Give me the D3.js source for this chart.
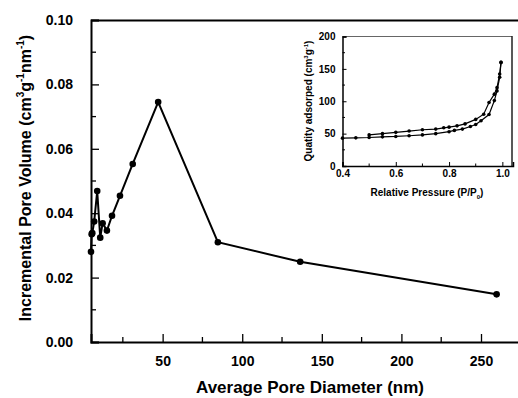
<!DOCTYPE html>
<html><head><meta charset="utf-8">
<script src="https://cdn.jsdelivr.net/npm/d3@7"></script>
<style>
body{margin:0;background:#fff;}
svg{display:block;font-family:"Liberation Sans",Arial,sans-serif;}
</style></head>
<body>
<svg id="c" width="518" height="398"></svg>
<script>
// Main chart data
const poreDiameter = [5, 5.4, 5.8, 7, 8.9, 10.8, 12.3, 15, 18.2, 23.2, 31.2, 47.2, 84.7, 136.4, 259.8];
const poreVolume   = [0.028, 0.0335, 0.0338, 0.0374, 0.0469, 0.0324, 0.0369, 0.0346, 0.0392, 0.0454, 0.0553, 0.0745, 0.031, 0.0249, 0.0148];
const xTicksMain = [50, 100, 150, 200, 250];
const yTicksMain = [0.00, 0.02, 0.04, 0.06, 0.08, 0.10];

// Inset isotherm data
const adsP = [0.40, 0.45, 0.50, 0.55, 0.60, 0.65, 0.70, 0.75, 0.80, 0.82, 0.85, 0.88, 0.90, 0.92, 0.95, 0.97, 0.98, 0.99, 0.995];
const adsQ = [43, 43.5, 44, 45, 45.6, 46.7, 48, 50, 53, 55, 57, 61, 64, 70, 79.5, 101, 116, 137, 160];
const desP = [0.50, 0.55, 0.60, 0.65, 0.70, 0.75, 0.78, 0.80, 0.83, 0.86, 0.90, 0.93, 0.95, 0.97, 0.98, 0.99, 0.995];
const desQ = [48, 50, 52, 54, 56, 57, 59, 60, 62, 65, 72, 80, 98, 111, 121, 142, 160];
const xTicksInset = [0.4, 0.6, 0.8, 1.0];
const yTicksInset = [0, 50, 100, 150, 200];

const svg = d3.select("#c");

// ---------- Main ----------
const x = d3.scaleLinear().domain([5, 275]).range([91, 520.8]);
const y = d3.scaleLinear().domain([0, 0.1]).range([342, 20]);

// frame top
svg.append("line").attr("x1", 91).attr("x2", 520).attr("y1", 20.5).attr("y2", 20.5)
  .attr("stroke", "#000").attr("stroke-width", 2);

// y axis
const yAx = svg.append("g").attr("transform", "translate(91,0)")
  .call(d3.axisLeft(y).tickValues(yTicksMain).tickFormat(d3.format(".2f")).tickSize(-8).tickPadding(18));
yAx.select(".domain").attr("stroke-width", 2);
yAx.selectAll(".tick line").attr("stroke-width", 1.3);
yAx.selectAll("text").attr("font-size", 14).attr("font-weight", "bold").attr("fill", "#000");
// minor
svg.append("g").selectAll("line").data(d3.range(0.01, 0.1, 0.02)).join("line")
  .attr("x1", 91).attr("x2", 96).attr("y1", d => y(d)).attr("y2", d => y(d))
  .attr("stroke", "#000").attr("stroke-width", 1.3);

// x axis
const xAx = svg.append("g").attr("transform", "translate(0,342)")
  .call(d3.axisBottom(x).tickValues(xTicksMain).tickFormat(d3.format("d")).tickSize(-8).tickPadding(14));
xAx.select(".domain").attr("stroke-width", 2);
xAx.selectAll(".tick line").attr("stroke-width", 1.3);
xAx.selectAll("text").attr("font-size", 14).attr("font-weight", "bold").attr("fill", "#000");
svg.append("g").selectAll("line").data([25, 75, 125, 175, 225, 275]).join("line")
  .attr("x1", d => x(d)).attr("x2", d => x(d)).attr("y1", 342).attr("y2", 337)
  .attr("stroke", "#000").attr("stroke-width", 1.3);

// line + markers
const mainData = poreDiameter.map((d, i) => [d, poreVolume[i]]);
svg.append("path").datum(mainData)
  .attr("d", d3.line().x(d => x(d[0])).y(d => y(d[1])))
  .attr("fill", "none").attr("stroke", "#000").attr("stroke-width", 2);
svg.append("g").selectAll("circle").data(mainData).join("circle")
  .attr("cx", d => x(d[0])).attr("cy", d => y(d[1])).attr("r", 3.3).attr("fill", "#000");

// titles
svg.append("text").attr("x", 310).attr("y", 393).attr("text-anchor", "middle")
  .attr("font-size", 17).attr("font-weight", "bold").text("Average Pore Diameter (nm)");
const yt = svg.append("text").attr("transform", "translate(31,178) rotate(-90)")
  .attr("text-anchor", "middle").attr("font-size", 16).attr("font-weight", "bold");
yt.append("tspan").text("Incremental Pore Volume (cm");
yt.append("tspan").attr("font-size", 10).attr("dy", -7).text("3");
yt.append("tspan").attr("dy", 7).text("g");
yt.append("tspan").attr("font-size", 10).attr("dy", -7).text("-1");
yt.append("tspan").attr("dy", 7).text("nm");
yt.append("tspan").attr("font-size", 10).attr("dy", -7).text("-1");
yt.append("tspan").attr("dy", 7).text(")");

// ---------- Inset ----------
const xi = d3.scaleLinear().domain([0.4, 1.04]).range([342.5, 513]);
const yi = d3.scaleLinear().domain([0, 200]).range([166, 36.5]);

svg.append("line").attr("x1", 342.5).attr("x2", 512).attr("y1", 36.5).attr("y2", 36.5)
  .attr("stroke", "#666").attr("stroke-width", 1.2);
svg.append("line").attr("x1", 512).attr("x2", 512).attr("y1", 36).attr("y2", 166)
  .attr("stroke", "#222").attr("stroke-width", 1.5);

const yiAx = svg.append("g").attr("transform", "translate(342.5,0)")
  .call(d3.axisLeft(yi).tickValues(yTicksInset).tickFormat(d3.format("d")).tickSize(-4).tickPadding(7));
yiAx.select(".domain").attr("stroke-width", 1.5);
yiAx.selectAll("text").attr("font-size", 10).attr("font-weight", "bold").attr("fill", "#000");
svg.append("g").selectAll("line").data([25, 75, 125, 175]).join("line")
  .attr("x1", 342.5).attr("x2", 345).attr("y1", d => yi(d)).attr("y2", d => yi(d))
  .attr("stroke", "#000").attr("stroke-width", 1);

const xiAx = svg.append("g").attr("transform", "translate(0,166)")
  .call(d3.axisBottom(xi).tickValues(xTicksInset).tickFormat(d3.format(".1f")).tickSize(-4).tickPadding(4));
xiAx.select(".domain").attr("stroke-width", 1.5);
xiAx.selectAll("text").attr("font-size", 10).attr("font-weight", "bold").attr("fill", "#000");
svg.append("g").selectAll("line").data([0.5, 0.7, 0.9]).join("line")
  .attr("x1", d => xi(d)).attr("x2", d => xi(d)).attr("y1", 166).attr("y2", 163.5)
  .attr("stroke", "#000").attr("stroke-width", 1);

[[adsP, adsQ], [desP, desQ]].forEach(([P, Q]) => {
  const data = P.map((p, i) => [p, Q[i]]);
  svg.append("path").datum(data)
    .attr("d", d3.line().x(d => xi(d[0])).y(d => yi(d[1])))
    .attr("fill", "none").attr("stroke", "#000").attr("stroke-width", 1.2);
  svg.append("g").selectAll("circle").data(data).join("circle")
    .attr("cx", d => xi(d[0])).attr("cy", d => yi(d[1])).attr("r", 1.8).attr("fill", "#000");
});

const xit = svg.append("text").attr("x", 427).attr("y", 196).attr("text-anchor", "middle")
  .attr("font-size", 10).attr("font-weight", "bold");
xit.append("tspan").text("Relative Pressure (P/P");
xit.append("tspan").attr("font-size", 6).attr("dy", 3).text("0");
xit.append("tspan").attr("dy", -3).text(")");

const yit = svg.append("text").attr("transform", "translate(312,101) rotate(-90)")
  .attr("text-anchor", "middle").attr("font-size", 10).attr("font-weight", "bold");
yit.append("tspan").text("Quatity adsorped (cm");
yit.append("tspan").attr("font-size", 6).attr("dy", -4).text("3");
yit.append("tspan").attr("dy", 4).text("g");
yit.append("tspan").attr("font-size", 6).attr("dy", -4).text("-1");
yit.append("tspan").attr("dy", 4).text(")");
</script>
</body></html>
